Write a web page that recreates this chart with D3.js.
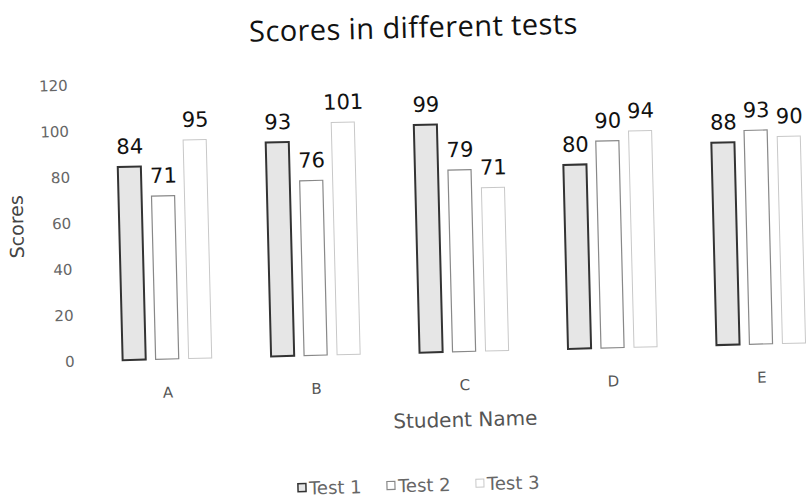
<!DOCTYPE html>
<html>
<head>
<meta charset="utf-8">
<script src="https://cdn.jsdelivr.net/npm/d3@7"></script>
<style>
  body { margin: 0; background: #fff; }
  svg { display: block; }
</style>
</head>
<body>
<script>
'use strict';

const width = 810;
const height = 501;

// chart values
const students = ['A', 'B', 'C', 'D', 'E'];
const tests = ['Test 1', 'Test 2', 'Test 3'];
const test1 = [84, 93, 99, 80, 88];
const test2 = [71, 76, 79, 90, 93];
const test3 = [95, 101, 71, 94, 90];
const yTicks = [0, 20, 40, 60, 80, 100, 120];

const series = [test1, test2, test3];
const rows = students.map((s, i) => ({
    name: s,
    values: tests.map((t, j) => ({ test: t, value: series[j][i] }))
}));

const barFill = { 'Test 1': '#e6e6e6', 'Test 2': '#ffffff', 'Test 3': '#ffffff' };
const barStroke = { 'Test 1': '#333', 'Test 2': '#888', 'Test 3': '#c8c8c8' };
const barStrokeWidth = { 'Test 1': 2, 'Test 2': 1.2, 'Test 3': 1 };

let svg = d3.select('body').append('svg').attr('width', width).attr('height', height);

// the source is a slightly tilted scan
let g = svg.append('g').attr('transform', 'rotate(-1.45, 405, 250)');

let x0 = d3.scaleBand()
    .domain(students)
    .range([90.25, 832.75])
    .paddingInner(0.4)
    .paddingOuter(0.2);

let x1 = d3.scaleBand()
    .domain(tests)
    .range([0, x0.bandwidth()])
    .paddingInner(0.3);

let y = d3.scaleLinear().domain([0, 120]).range([353, 77]);

// y axis: labels only
const yAxis = d3.axisLeft(y).tickValues(yTicks).tickSize(0).tickPadding(0);
let yG = g.append('g')
    .attr('transform', 'translate(72,0)')
    .call(yAxis);
yG.select('.domain').remove();
yG.selectAll('text')
    .attr('font-family', 'DejaVu Sans')
    .attr('font-size', 15)
    .attr('fill', '#666');

// x axis: labels only
const xAxis = d3.axisBottom(x0).tickSize(0).tickPadding(0);
let xG = g.append('g')
    .attr('transform', 'translate(0,381)')
    .call(xAxis);
xG.select('.domain').remove();
xG.selectAll('text')
    .attr('font-family', 'DejaVu Sans')
    .attr('font-size', 15)
    .attr('fill', '#555');

let groups = g.append('g')
    .selectAll('g')
    .data(rows)
    .join('g')
    .attr('transform', d => 'translate(' + x0(d.name) + ',0)');

groups.selectAll('rect')
    .data(d => d.values)
    .join('rect')
    .attr('x', d => x1(d.test))
    .attr('width', x1.bandwidth())
    .attr('y', d => y(d.value))
    .attr('height', d => y(0) - y(d.value))
    .attr('fill', d => barFill[d.test])
    .attr('stroke', d => barStroke[d.test])
    .attr('stroke-width', d => barStrokeWidth[d.test]);

groups.selectAll('text')
    .data(d => d.values)
    .join('text')
    .attr('x', d => x1(d.test) + x1.bandwidth() / 2 + 1)
    .attr('y', d => y(d.value) - 13)
    .attr('text-anchor', 'middle')
    .attr('font-family', 'DejaVu Sans')
    .attr('font-size', 21)
    .attr('fill', '#111')
    .text(d => d.value);

// title
g.append('text')
    .attr('x', 419)
    .attr('y', 38)
    .attr('text-anchor', 'middle')
    .attr('font-family', 'Open Sans')
    .attr('font-size', 29)
    .attr('font-weight', 500)
    .attr('letter-spacing', 0.4)
    .attr('fill', '#111')
    .text('Scores in different tests');

// axis titles
g.append('text')
    .attr('transform', 'translate(24,217) rotate(-90)')
    .attr('text-anchor', 'middle')
    .attr('font-family', 'DejaVu Sans')
    .attr('font-size', 19)
    .attr('fill', '#444')
    .text('Scores');

g.append('text')
    .attr('x', 461)
    .attr('y', 428)
    .attr('text-anchor', 'middle')
    .attr('font-family', 'DejaVu Sans')
    .attr('font-size', 20)
    .attr('fill', '#555')
    .text('Student Name');

// legend
let legend = g.append('g').attr('transform', 'translate(292,486)');
let legendStep = 89;
let items = legend.selectAll('g')
    .data(tests)
    .join('g')
    .attr('transform', (d, i) => 'translate(' + (i * legendStep) + ',0)');
items.append('rect')
    .attr('x', 0)
    .attr('y', -5)
    .attr('width', 8)
    .attr('height', 8)
    .attr('fill', d => barFill[d])
    .attr('stroke', d => barStroke[d])
    .attr('stroke-width', d => Math.min(barStrokeWidth[d], 1.5));
items.append('text')
    .attr('x', 11)
    .attr('y', 6)
    .attr('font-family', 'DejaVu Sans')
    .attr('font-size', 18)
    .attr('fill', '#666')
    .text(d => d);
</script>
</body>
</html>
